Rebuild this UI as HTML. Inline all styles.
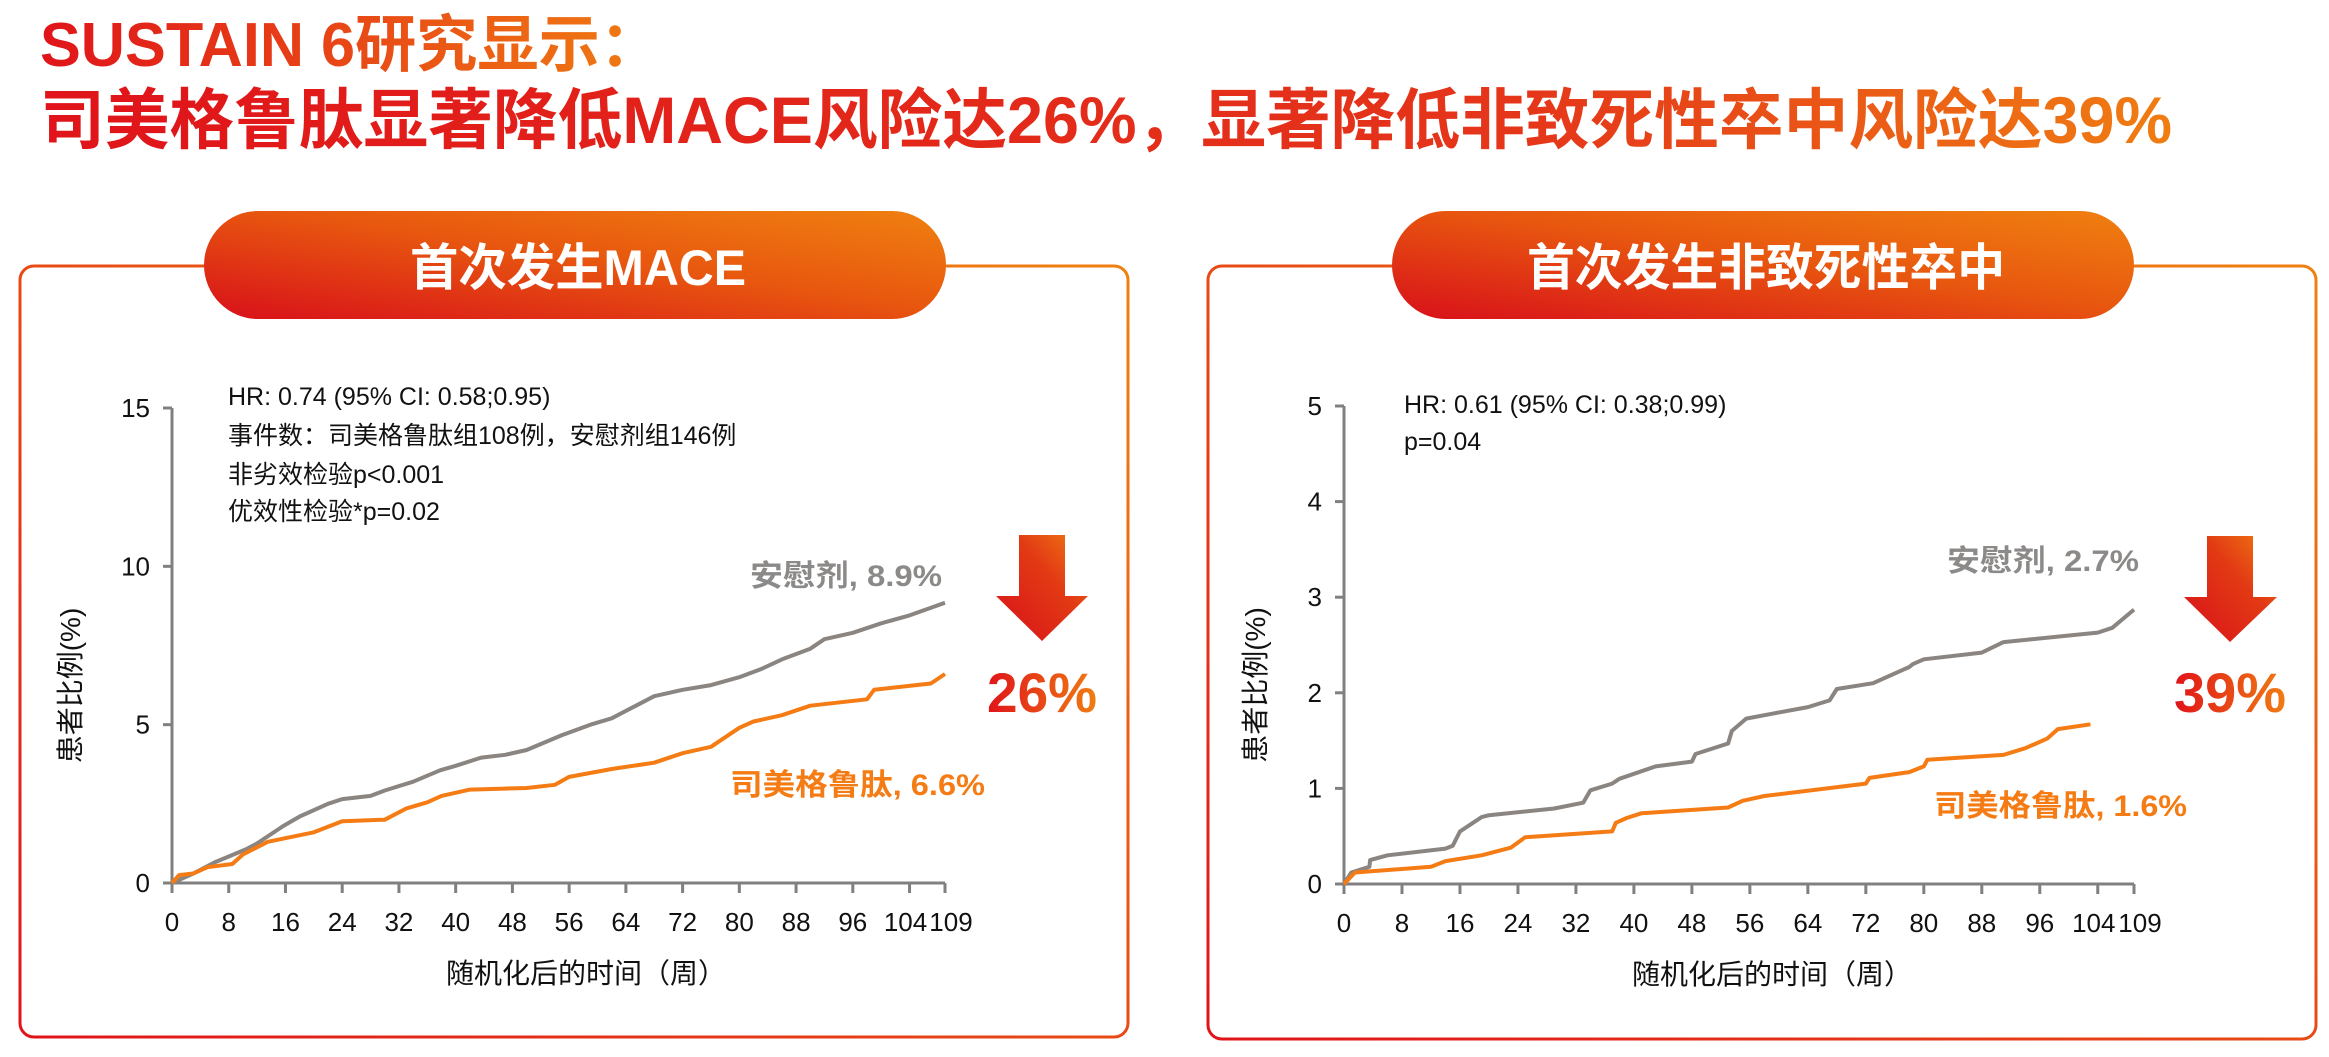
<!DOCTYPE html>
<html><head><meta charset="utf-8"><style>
html,body{margin:0;padding:0;background:#fff;}
svg{display:block;}
text{font-family:"Liberation Sans","Noto Sans CJK SC",sans-serif;}
</style></head><body>
<svg id="s" width="2329" height="1057" viewBox="0 0 2329 1057" xmlns="http://www.w3.org/2000/svg">
<defs>
<linearGradient id="tg" x1="0" y1="0" x2="1" y2="0"><stop offset="0" stop-color="#e0141a"/><stop offset="0.7" stop-color="#e5361a"/><stop offset="1" stop-color="#f07d12"/></linearGradient>
<linearGradient id="tg1" x1="0" y1="0" x2="1" y2="0"><stop offset="0" stop-color="#e0141a"/><stop offset="1" stop-color="#f07d12"/></linearGradient>
<linearGradient id="pg" x1="0" y1="1" x2="1" y2="0"><stop offset="0" stop-color="#d8101a"/><stop offset="0.55" stop-color="#e8580f"/><stop offset="1" stop-color="#f08010"/></linearGradient>
<linearGradient id="bg" x1="0" y1="1" x2="1" y2="0"><stop offset="0" stop-color="#e0141a"/><stop offset="1" stop-color="#f08010"/></linearGradient>
<linearGradient id="ag" x1="0" y1="1" x2="1" y2="0"><stop offset="0" stop-color="#d8101a"/><stop offset="0.6" stop-color="#e23a14"/><stop offset="1" stop-color="#f07d12"/></linearGradient>
</defs>
<text x="40" y="66" font-size="62" font-weight="bold" fill="url(#tg1)" textLength="621" lengthAdjust="spacingAndGlyphs">SUSTAIN 6研究显示：</text>
<text x="40" y="143" font-size="66" font-weight="bold" fill="url(#tg)" textLength="2132" lengthAdjust="spacingAndGlyphs">司美格鲁肽显著降低MACE风险达26%，显著降低非致死性卒中风险达39%</text>

<rect x="20" y="266" width="1108" height="771" rx="14" fill="#fff" stroke="url(#bg)" stroke-width="3"/>
<rect x="1208" y="266" width="1108" height="773" rx="14" fill="#fff" stroke="url(#bg)" stroke-width="3"/>
<rect x="204" y="211" width="742" height="108" rx="54" fill="url(#pg)"/>
<rect x="1392" y="211" width="742" height="108" rx="54" fill="url(#pg)"/>
<text x="410" y="285" font-size="50" font-weight="bold" fill="#fff" textLength="336" lengthAdjust="spacingAndGlyphs">首次发生MACE</text>
<text x="1527" y="285" font-size="50" font-weight="bold" fill="#fff" textLength="478" lengthAdjust="spacingAndGlyphs">首次发生非致死性卒中</text>

<g id="g"></g>

<g font-size="25" fill="#111">
<text x="228" y="405">HR: 0.74 (95% CI: 0.58;0.95)</text>
<text x="228" y="444">事件数：司美格鲁肽组108例，安慰剂组146例</text>
<text x="228" y="483">非劣效检验p&lt;0.001</text>
<text x="228" y="520">优效性检验*p=0.02</text>
<text x="1404" y="413">HR: 0.61 (95% CI: 0.38;0.99)</text>
<text x="1404" y="450">p=0.04</text>
</g>
<g font-size="30" font-weight="bold">
<text x="750" y="586" fill="#8c8a88" textLength="192" lengthAdjust="spacingAndGlyphs">安慰剂, 8.9%</text>
<text x="730" y="795" fill="#f57c14" textLength="255" lengthAdjust="spacingAndGlyphs">司美格鲁肽, 6.6%</text>
<text x="1947" y="571" fill="#8c8a88" textLength="192" lengthAdjust="spacingAndGlyphs">安慰剂, 2.7%</text>
<text x="1934" y="816" fill="#f57c14" textLength="253" lengthAdjust="spacingAndGlyphs">司美格鲁肽, 1.6%</text>
</g>
<polygon points="1019,535 1065,535 1065,596 1088,596 1042,641 996,596 1019,596" fill="url(#ag)"/>
<polygon points="2207,536 2253,536 2253,597 2277,597 2230,642 2184,597 2207,597" fill="url(#ag)"/>
<text x="987" y="712" font-size="56" font-weight="bold" fill="url(#tg1)" textLength="110" lengthAdjust="spacingAndGlyphs">26%</text>
<text x="2174" y="712" font-size="56" font-weight="bold" fill="url(#tg1)" textLength="112" lengthAdjust="spacingAndGlyphs">39%</text>
</svg>
<script>
var NS="http://www.w3.org/2000/svg",G=document.getElementById('g');
function el(t,a,txt){var e=document.createElementNS(NS,t);for(var k in a)e.setAttribute(k,a[k]);if(txt!=null)e.textContent=txt;G.appendChild(e);return e;}
function chart(c){
 var X=function(w){return c.x0+(c.x1-c.x0)*w/109},Y=function(v){return c.y0-(c.y0-c.y1)*v/c.ymax};
 el('line',{x1:c.x0,y1:c.y1,x2:c.x0,y2:c.y0,stroke:'#808080','stroke-width':3});
 el('line',{x1:c.x0,y1:c.y0,x2:c.x1,y2:c.y0,stroke:'#808080','stroke-width':3});
 for(var i=0;i<c.yt.length;i++){var v=c.yt[i];el('line',{x1:c.x0-9,y1:Y(v),x2:c.x0,y2:Y(v),stroke:'#808080','stroke-width':3});
  el('text',{x:c.x0-22,y:Y(v)+9,'font-size':26,'text-anchor':'end',fill:'#111'},String(v));}
 var xt=[0,8,16,24,32,40,48,56,64,72,80,88,96,104,109];
 xt.forEach(function(w){el('line',{x1:X(w),y1:c.y0,x2:X(w),y2:c.y0+10,stroke:'#808080','stroke-width':3});
  el('text',{x:X(w)+(w==109?6:(w==104?-4:0)),y:c.y0+48,'font-size':26,'text-anchor':'middle',fill:'#111'},String(w));});
 el('text',{x:c.xt,y:c.y0+100,'font-size':28,'text-anchor':'middle',fill:'#111'},'随机化后的时间（周）');
 var cy=(c.y0+c.y1)/2+40;
 el('text',{x:c.yl,y:cy,'font-size':28,'text-anchor':'middle',fill:'#111',transform:'rotate(-90 '+c.yl+' '+cy+')'},'患者比例(%)');
 [[c.g,'#8a8581'],[c.o,'#f57c14']].forEach(function(p){var d='';for(var i=0;i<p[0].length;i+=2)d+=(i?'L':'M')+X(p[0][i]).toFixed(1)+','+Y(p[0][i+1]).toFixed(1);
  el('path',{d:d,fill:'none',stroke:p[1],'stroke-width':4,'stroke-linejoin':'round'});});
}
chart({x0:172,x1:945,y0:883,y1:408,ymax:15,yt:[0,5,10,15],xt:586,yl:80,
 g:[0,0,3,0.3,6,0.65,10.4,1.06,12,1.25,15.7,1.8,18,2.1,22,2.5,24,2.65,28,2.75,30,2.92,34,3.2,37.8,3.56,40,3.7,43.6,3.96,47,4.05,50,4.2,55,4.67,59,5.0,62,5.2,68,5.9,72,6.1,76,6.25,80,6.5,83,6.75,86,7.06,90,7.4,92,7.7,96,7.9,100,8.2,104,8.45,109,8.85],
 o:[0,0,1,0.25,3,0.3,5,0.5,8.5,0.6,10,0.9,13.5,1.3,20,1.6,24,1.95,30,2.0,33,2.35,36,2.55,38,2.75,42,2.95,50,3.0,54,3.1,56,3.35,62,3.6,68,3.8,72,4.1,76,4.3,80,4.9,82,5.1,86,5.3,90,5.6,98,5.8,99,6.1,107,6.3,109,6.6]});
chart({x0:1344,x1:2134,y0:884,y1:406,ymax:5,yt:[0,1,2,3,4,5],xt:1772,yl:1265,
 g:[0,0,1,0.12,3.5,0.18,3.6,0.25,6,0.3,14,0.37,15,0.4,16,0.55,19,0.7,20,0.72,29,0.79,33,0.85,34,0.98,37,1.05,38,1.1,43,1.23,48,1.28,48.5,1.36,53,1.47,53.5,1.6,55.5,1.73,59,1.78,64,1.85,67,1.92,68,2.04,73,2.1,78,2.27,78.5,2.3,80,2.35,88,2.42,91,2.53,104,2.63,106,2.68,109,2.87],
 o:[0,0,1.5,0.12,12,0.18,14,0.24,19,0.3,23,0.38,25,0.49,37,0.55,37.5,0.64,39,0.69,41,0.74,53,0.8,55,0.87,58,0.92,72,1.05,72.5,1.11,78,1.17,80,1.23,80.5,1.3,91,1.35,94,1.42,97,1.52,98.5,1.62,103,1.67]});
</script>
</body></html>
